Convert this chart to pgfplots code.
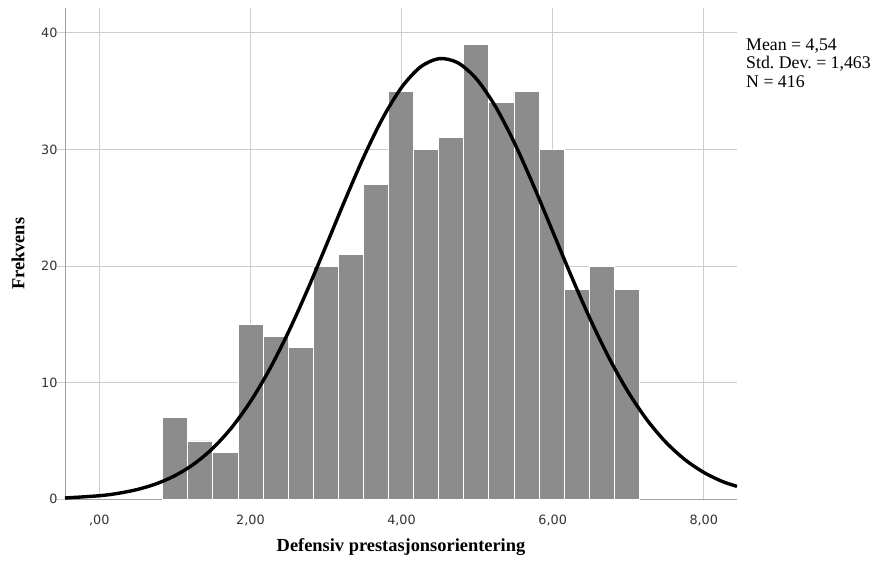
\documentclass[border=0pt]{standalone}
\usepackage{fontspec}
\setmainfont{Liberation Serif}
\newfontfamily\ticksans{DejaVu Sans}
\usepackage{pgfplots}
\pgfplotsset{compat=1.18}
\definecolor{barfill}{HTML}{8C8C8C}
\definecolor{gridc}{HTML}{CDCDCD}
\definecolor{axisc}{HTML}{A0A0A0}
\definecolor{ticktext}{HTML}{333333}

\begin{document}
\frenchspacing
\begin{tikzpicture}
\useasboundingbox (-65pt,-62.7pt) rectangle (816pt,499.3pt);
\begin{axis}[
  at={(0,0)}, anchor=south west,
  scale only axis, width=672pt, height=491pt,
  xmin=-0.454, xmax=8.44, ymin=0, ymax=42.1,
  axis lines=left, axis line style={draw=axisc, line width=0.9pt, -},
  xtick={0,2,4,6,8}, xticklabels={{,00},{2,00},{4,00},{6,00},{8,00}},
  ytick={0,10,20,30,40}, yticklabels={0,10,20,30,40},
  grid=major, major grid style={draw=gridc, line width=0.9pt},
  xtick style={draw=none}, ytick style={draw=gridc, line width=0.9pt},
  tick align=outside, major tick length=8pt,
  tick label style={font=\ticksans\fontsize{12.8}{14}\selectfont, text=ticktext},
  xticklabel style={anchor=base, yshift=-17.5pt},
  yticklabel style={anchor=east, xshift=4pt},
  every axis x label/.style={at={([yshift=-52pt]axis description cs:0.5,0)}, anchor=base},
  every axis y label/.style={at={([xshift=-47pt]axis description cs:0,0.5)}, anchor=center, rotate=90},
  label style={font=\bfseries\fontsize{18.4}{20}\selectfont},
  xlabel={Defensiv prestasjonsorientering},
  ylabel={Frekvens},
  clip=false,
]
% histogram, bin width about 0.332
\addplot[ybar interval, fill=barfill, draw=white, line width=0.9pt] coordinates {
(0.840,7) (1.172,5) (1.504,4) (1.836,15) (2.168,14) (2.500,13) (2.832,20)
(3.164,21) (3.496,27) (3.828,35) (4.160,30) (4.492,31) (4.824,39) (5.156,34)
(5.488,35) (5.820,30) (6.152,18) (6.484,20) (6.816,18) (7.148,18)
};
% normal curve, mean 4.54, sd 1.463 (tabulated)
\addplot[black, line width=3.4pt, smooth] coordinates {
(-0.454,0.112) (0.00,0.306) (0.25,0.513) (0.50,0.835) (0.75,1.319) (1.00,2.024)
(1.25,3.015) (1.50,4.364) (1.75,6.134) (2.00,8.374) (2.25,11.103) (2.50,14.298)
(2.75,17.882) (3.00,21.721) (3.25,25.627) (3.50,29.361) (3.75,32.672) (4.00,35.311)
(4.25,37.065) (4.50,37.786) (4.75,37.413) (5.00,35.977) (5.25,33.601)
(5.50,30.478) (5.75,26.851) (6.00,22.973) (6.25,19.091) (6.50,15.408) (6.75,12.077)
(7.00,9.193) (7.25,6.798) (7.50,4.882) (7.75,3.404) (8.00,2.306) (8.25,1.517)
(8.44,1.110)
};
\end{axis}
\node[anchor=north west, align=left, inner sep=0pt, font=\fontsize{17.8}{18.5}\selectfont]
  at (681pt,461pt) {Mean = 4,54\\Std. Dev. = 1,463\\N = 416};
\end{tikzpicture}
\end{document}
